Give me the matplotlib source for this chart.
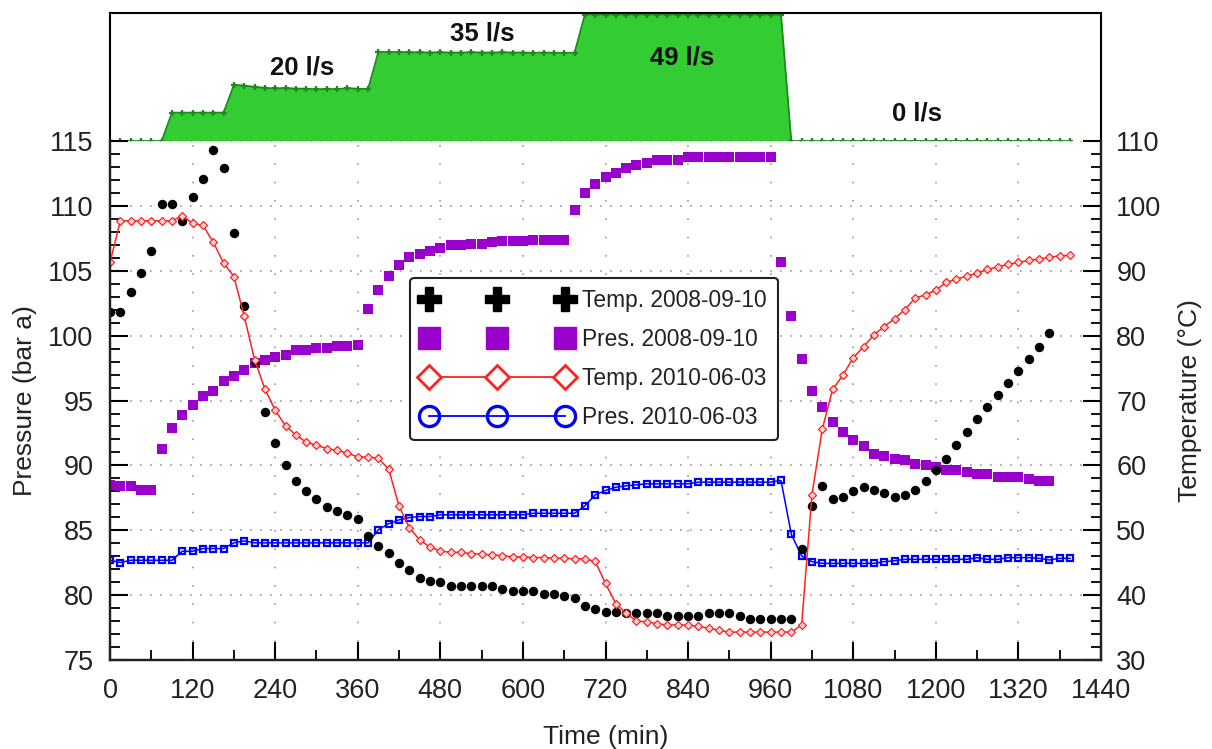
import numpy as np
import matplotlib
matplotlib.use('Agg')
import matplotlib.pyplot as plt
from matplotlib.lines import Line2D
from matplotlib.ticker import MultipleLocator

plt.rcParams['font.family'] = ['Liberation Sans', 'DejaVu Sans']

# sampling: one reading every 15 min
time_flow = list(range(0, 1396, 15))      # 0 .. 1395
time_2008 = list(range(0, 1366, 15))      # 0 .. 1365
time_2010 = list(range(0, 1396, 15))      # 0 .. 1395

# flow rate (l/s), top panel
flow = [0, 0, 0, 0, 0, 0,
        11, 11, 11, 11, 11, 11,
        21.8, 21.5, 21.0, 20.6, 20.4, 20.6, 20.3, 20.3, 20.0, 20.3, 20.0, 20.6, 20.2, 20.2,
        34.6, 34.5, 34.5, 34.4, 34.4, 34.3, 34.4, 34.3, 34.3, 34.4, 34.3, 34.3, 34.4, 34.3,
        34.3, 34.2, 34.3, 34.2, 34.2, 34.2,
        49, 49, 49, 49, 49, 49, 49, 49, 49, 49, 49, 49, 49, 49, 49, 49, 49, 49, 49, 49,
        0, 0, 0, 0, 0, 0, 0, 0, 0, 0, 0, 0, 0, 0, 0, 0, 0, 0, 0, 0,
        0, 0, 0, 0, 0, 0, 0, 0]

# Temp. 2008-09-10 (degC)
temp_2008 = [83.6, 83.6, 86.7, 89.6, 93.1, 100.3, 100.3, 97.6, 101.3, 104.2,
             108.6, 105.8, 95.9, 84.6, 76.0, 68.2, 63.4, 60.0, 57.6, 56.1,
             54.8, 53.6, 52.9, 52.3, 51.8, 49.1, 47.5, 46.5, 44.9, 43.9,
             42.7, 42.2, 42.0, 41.4, 41.4, 41.4, 41.4, 41.4, 41.0, 40.7,
             40.7, 40.7, 40.1, 40.1, 39.8, 39.5, 38.3, 37.9, 37.4, 37.4,
             37.2, 37.2, 37.2, 37.2, 36.8, 36.8, 36.8, 36.8, 37.2, 37.2,
             37.2, 36.8, 36.4, 36.4, 36.4, 36.4, 36.4, 47.1, 53.7, 56.9,
             54.8, 55.2, 56.0, 56.6, 56.2, 55.7, 55.2, 55.5, 56.2, 57.6,
             59.3, 61.0, 63.2, 65.1, 67.2, 69.0, 70.9, 72.7, 74.6, 76.4,
             78.3, 80.4]

# Pres. 2008-09-10 (bar a)
pres_2008 = [88.51, 88.38, 88.38, 88.13, 88.13,
             91.28, 92.87, 93.92, 94.66, 95.33, 95.72, 96.49, 96.92, 97.33, 97.9,
             98.1, 98.36, 98.49, 98.87, 98.92, 99.05, 99.05, 99.18, 99.18, 99.31,
             102.05, 103.49, 104.56, 105.48, 106.03, 106.28, 106.56, 106.74, 106.95, 106.95,
             107.08, 107.08, 107.2, 107.26, 107.26, 107.33, 107.38, 107.38, 107.38, 107.38,
             109.69, 111.03, 111.7, 112.25, 112.5, 112.89, 113.15, 113.33, 113.53, 113.53,
             113.53, 113.79, 113.79, 113.79, 113.79, 113.79, 113.79, 113.79, 113.79, 113.79,
             105.7, 101.52, 98.22, 95.72, 94.51, 93.35, 92.55, 91.93, 91.47, 90.9,
             90.75, 90.52, 90.39, 90.1, 90.0, 89.87, 89.61, 89.61, 89.46, 89.33,
             89.33, 89.1, 89.1, 89.1, 88.97, 88.81, 88.81]

# Temp. 2010-06-03 (degC)
temp_2010 = [91.3, 97.7, 97.7, 97.7, 97.7, 97.7, 97.7, 98.5, 97.3, 97.0,
             94.4, 91.2, 89.1, 83.0, 76.3, 71.8, 68.5, 66.1, 64.7, 63.6,
             63.1, 62.6, 62.3, 61.9, 61.3, 61.3, 61.1, 59.4, 53.7, 50.4,
             48.5, 47.4, 46.8, 46.6, 46.6, 46.4, 46.3, 46.2, 46.1, 45.9,
             45.9, 45.8, 45.8, 45.7, 45.7, 45.6, 45.6, 45.2, 41.8, 38.7,
             37.2, 36.0, 35.9, 35.6, 35.4, 35.4, 35.4, 35.2, 34.9, 34.6,
             34.3, 34.3, 34.3, 34.3, 34.3, 34.3, 34.3, 35.4, 55.5, 65.6,
             71.7, 73.9, 76.6, 78.3, 80.1, 81.4, 82.6, 84.0, 85.8, 86.3,
             87.0, 88.2, 88.7, 89.2, 89.6, 90.2, 90.6, 91.0, 91.3, 91.6,
             91.8, 92.1, 92.3, 92.4]

# Pres. 2010-06-03 (bar a)
pres_2010 = [82.69, 82.51, 82.69, 82.69, 82.69, 82.69, 82.69, 83.38, 83.38, 83.59,
             83.59, 83.59, 84.03, 84.18, 84.03, 84.03, 84.03, 84.03, 84.03, 84.03,
             84.03, 84.03, 84.03, 84.03, 84.03, 84.03, 85.05, 85.51, 85.8, 85.98,
             86.06, 86.06, 86.19, 86.19, 86.19, 86.19, 86.19, 86.19, 86.19, 86.19,
             86.19, 86.31, 86.31, 86.31, 86.31, 86.31, 86.88, 87.73, 88.07, 88.32,
             88.43, 88.5, 88.58, 88.58, 88.58, 88.58, 88.58, 88.71, 88.71, 88.71,
             88.71, 88.71, 88.71, 88.71, 88.71, 88.84, 84.69, 83.02, 82.58, 82.45,
             82.45, 82.45, 82.45, 82.45, 82.45, 82.58, 82.65, 82.76, 82.76, 82.76,
             82.76, 82.76, 82.76, 82.76, 82.89, 82.76, 82.76, 82.89, 82.89, 82.89,
             82.84, 82.71, 82.84, 82.84]

flow_labels = ['20 l/s', '35 l/s', '49 l/s', '0 l/s']
flow_label_pos = [(279, 28.5), (541, 41.5), (831, 32.2), (1173, 10.6)]

fig = plt.figure(figsize=(12.12, 7.49), dpi=100)

# ---- flow rate panel on top
axf = fig.add_axes([0.0908, 0.8117, 0.8176, 0.1709])
axf.fill_between(time_flow, flow, 0, color='#33CC33', linewidth=0)
axf.plot(time_flow, flow, color='#1E8A1E', linewidth=1.3, marker='+',
         markersize=5, markeredgewidth=1.6)
for lab, (tx, ty) in zip(flow_labels, flow_label_pos):
    axf.text(tx, ty, lab, ha='center', va='center', fontsize=18.5,
             fontweight='bold', color='#111111')
axf.set_xlim(0, 1440)
axf.set_ylim(0, 49.6)
axf.set_xticks([])
axf.set_yticks([])
axf.spines['bottom'].set_visible(False)
for s in ['left', 'right', 'top']:
    axf.spines[s].set_linewidth(1.5)
axf.patch.set_alpha(0)

# ---- main panel
ax = fig.add_axes([0.0908, 0.1188, 0.8176, 0.6929])
ax2 = ax.twinx()

ax.plot(time_2008, pres_2008, linestyle='none', marker='s', markersize=6.5,
        color='#9900CC', markeredgewidth=0)
ax.plot(time_2010, pres_2010, color='#0000FF', linewidth=1.1, marker='s',
        markersize=5, markerfacecolor='none', markeredgewidth=1.6)

ax2.plot(time_2008, temp_2008, linestyle='none', marker='o', markersize=6.8,
         color='black', markeredgewidth=0)
ax2.plot(time_2010, temp_2010, color='#FF2020', linewidth=1.1, marker='D',
         markersize=3.8, markerfacecolor='#FFD8D8', markeredgewidth=0.9)

ax.set_xlim(0, 1440)
ax.set_ylim(75, 115)
ax2.set_ylim(30, 110)

ax.xaxis.set_major_locator(MultipleLocator(120))
ax.xaxis.set_minor_locator(MultipleLocator(60))
ax.yaxis.set_major_locator(MultipleLocator(5))
ax.yaxis.set_minor_locator(MultipleLocator(1))
ax2.yaxis.set_major_locator(MultipleLocator(10))
ax2.yaxis.set_minor_locator(MultipleLocator(2))

ax.yaxis.grid(True, which='major', linestyle=(0, (1, 5)), color='#9A9A9A', linewidth=1.2)
ax.xaxis.grid(True, which='major', linestyle=(0, (1, 10)), color='#9A9A9A', linewidth=1.2)

tick_col = '#222222'
ax.tick_params(axis='both', which='major', direction='in', length=13, width=1.5,
               labelsize=19.5, labelcolor=tick_col, top=False, right=False)
ax.tick_params(axis='both', which='minor', direction='in', length=7, width=1.3,
               top=False, right=False)
ax.tick_params(axis='x', which='major', pad=13)
ax.tick_params(axis='y', which='major', pad=12)
ax2.tick_params(axis='y', which='major', direction='in', length=13, width=1.5,
                labelsize=19.5, labelcolor=tick_col, pad=11)
ax2.tick_params(axis='y', which='minor', direction='in', length=7, width=1.3)

for a in (ax, ax2):
    a.spines['top'].set_visible(False)
    for s in ['left', 'right', 'bottom']:
        a.spines[s].set_linewidth(1.6)
        a.spines[s].set_color('#222222')

ax.set_xlabel('Time (min)', fontsize=19, color=tick_col, labelpad=15)
ax.set_ylabel('Pressure (bar a)', fontsize=19, color=tick_col, labelpad=8)
ax2.set_ylabel('Temperature (°C)', fontsize=19, color=tick_col, labelpad=12)

handles = [
    Line2D([], [], linestyle='none', marker='P', markersize=17, color='black'),
    Line2D([], [], linestyle='none', marker='s', markersize=16, color='#9900CC'),
    Line2D([], [], color='#FF2020', linewidth=1.3, marker='D', markersize=12,
           markerfacecolor='white', markeredgewidth=2),
    Line2D([], [], color='#0000FF', linewidth=1.3, marker='o', markersize=14.5,
           markerfacecolor='none', markeredgewidth=2.4),
]
labels = ['Temp. 2008-09-10', 'Pres. 2008-09-10', 'Temp. 2010-06-03', 'Pres. 2010-06-03']
leg = ax2.legend(handles, labels, loc='upper left', bbox_to_anchor=(0.303, 0.737),
                 borderaxespad=0, numpoints=3, fontsize=16.4, handlelength=6.6,
                 handletextpad=0.45, labelspacing=0.7, borderpad=0.5,
                 frameon=True, fancybox=True, framealpha=1, edgecolor='#222222')
leg.get_frame().set_linewidth(1.5)
for t in leg.get_texts():
    t.set_color(tick_col)

fig.savefig('out.png', dpi=100)
